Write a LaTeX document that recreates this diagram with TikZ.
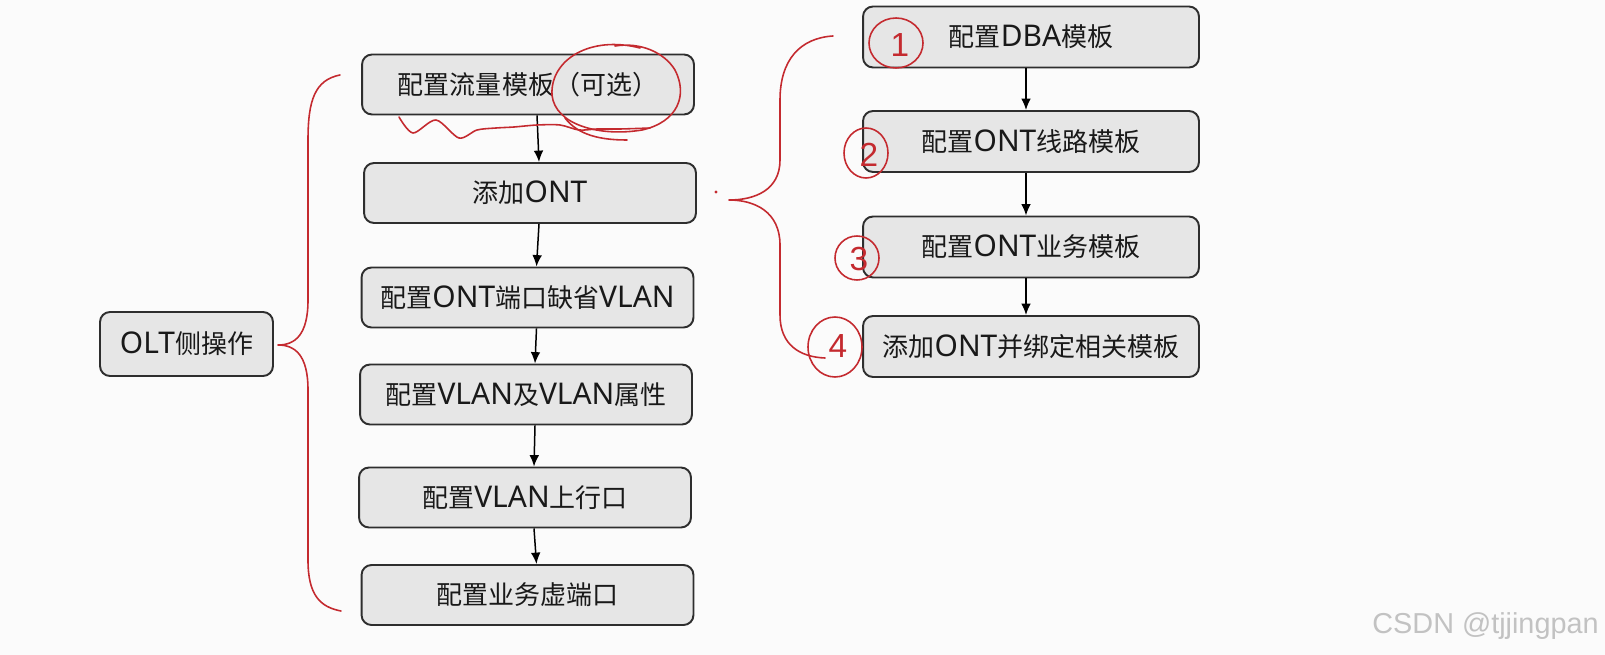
\documentclass[tikz,border=0pt]{standalone}
\usepackage{fontspec}
\setmainfont{Noto Sans CJK SC}
\newfontfamily\ltn[Scale=1.15]{Noto Sans}
\newfontfamily\wmfont{Liberation Sans}
\usetikzlibrary{arrows.meta,positioning}
\definecolor{boxfill}{HTML}{E6E6E6}
\definecolor{boxline}{HTML}{2E2E2E}
\definecolor{penred}{HTML}{C42A2F}
\definecolor{bg}{HTML}{FBFBFB}
\definecolor{wmgray}{HTML}{C2C2C2}
\newcommand{\lt}[1]{{\ltn #1}}

\begin{document}
\begin{tikzpicture}[x=0.02cm,y=-0.02cm,
  stepbox/.style={draw=boxline,fill=boxfill,line width=1.1pt,rounded corners=0.2cm,
    minimum width=6.64cm,minimum height=1.2cm,inner sep=0pt,text=black!90,
    font=\fontsize{14.8}{17}\selectfont},
  tplbox/.style={stepbox,minimum width=6.72cm,minimum height=1.22cm},
  flow/.style={line width=0.85pt,-{Latex[length=6.5pt,width=5.5pt]}},
  pen/.style={penred,line width=0.9pt,line cap=round,line join=round},
  digit/.style={text=penred,inner sep=0pt,font=\wmfont\fontsize{19}{19}\selectfont}]
  \fill[bg] (0,0) rectangle (1605,655);
  \useasboundingbox (0,0) rectangle (1605,655);

  % OLT side
  \node[stepbox,minimum width=3.46cm,minimum height=1.28cm] (olt) at (186.5,344) {\lt{OLT}侧操作};

  % left column
  \node[stepbox] (b1) at (528,84.5) {配置流量模板（可选）};
  \node[stepbox] (b2) at (530,193) {添加\lt{ONT}};
  \node[stepbox] (b3) at (527.5,297.5) {配置\lt{ONT}端口缺省\lt{VLAN}};
  \node[stepbox] (b4) at (526,394.5) {配置\lt{VLAN}及\lt{VLAN}属性};
  \node[stepbox] (b5) at (525,497.5) {配置\lt{VLAN}上行口};
  \node[stepbox] (b6) at (527.5,595) {配置业务虚端口};

  \foreach \a/\b in {b1/b2,b2/b3,b3/b4,b4/b5,b5/b6}
    \draw[flow] ([xshift=0.18cm]\a.south) -- ([xshift=0.18cm]\b.north);

  % right column (templates)
  \node[tplbox] (t1) at (1031,37) {配置\lt{DBA}模板};
  \node[tplbox] (t2) at (1031,141.5) {配置\lt{ONT}线路模板};
  \node[tplbox] (t3) at (1031,247) {配置\lt{ONT}业务模板};
  \node[tplbox] (t4) at (1031,346.5) {添加\lt{ONT}并绑定相关模板};

  \foreach \a/\b in {t1/t2,t2/t3,t3/t4}
    \draw[flow] ([xshift=-0.1cm]\a.south) -- ([xshift=-0.1cm]\b.north);

  % red braces
  \draw[pen] (340,75) .. controls (315,80) and (308,100) .. (308,140) -- (308,300)
    .. controls (308,335) and (295,345) .. (278,345)
    .. controls (295,345) and (308,355) .. (308,390) -- (308,560)
    .. controls (308,595) and (320,607) .. (341,611);
  \draw[pen] (833,36) .. controls (800,38) and (780,60) .. (780,100) -- (780,160)
    .. controls (780,190) and (755,200) .. (729,200)
    .. controls (755,200) and (780,212) .. (780,245) -- (780,315)
    .. controls (780,345) and (800,357) .. (825,358);
  \fill[penred] (716,192) circle (1.6);

  % red marks on the first step
  \draw[pen] (640,48) .. controls (590,35) and (550,60) .. (552,95)
    .. controls (555,125) and (600,137) .. (642,130)
    .. controls (678,122) and (688,95) .. (675,70)
    .. controls (664,52) and (640,42) .. (615,46);
  \draw[pen] (565,118) .. controls (578,135) and (600,140) .. (627,140);
  \draw[pen] plot[smooth] coordinates {(399,117) (413,133) (436,120) (459,138) (477,130)
    (496,128) (514,127) (537,125) (560,125) (579,130) (597,129) (620,129) (650,128)};

  % circled numbers
  \draw[pen] (896,43) ellipse [x radius=27,y radius=25];
  \draw[pen] (866,153) ellipse [x radius=22,y radius=25];
  \draw[pen] (857,258) ellipse [x radius=22,y radius=22];
  \draw[pen] (835,347) ellipse [x radius=27,y radius=30];
  \node[digit] (n1) at (900,45) {1};
  \node[digit] (n2) at (869,155) {2};
  \node[digit] (n3) at (859,259) {3};
  \node[digit] (n4) at (838,346) {4};

  % watermark
  \node[anchor=east,inner sep=0pt,text=wmgray,font=\wmfont\fontsize{16.4}{18}\selectfont]
    (wm) at (1599,626) {CSDN @tjjingpan};
\end{tikzpicture}
\end{document}
